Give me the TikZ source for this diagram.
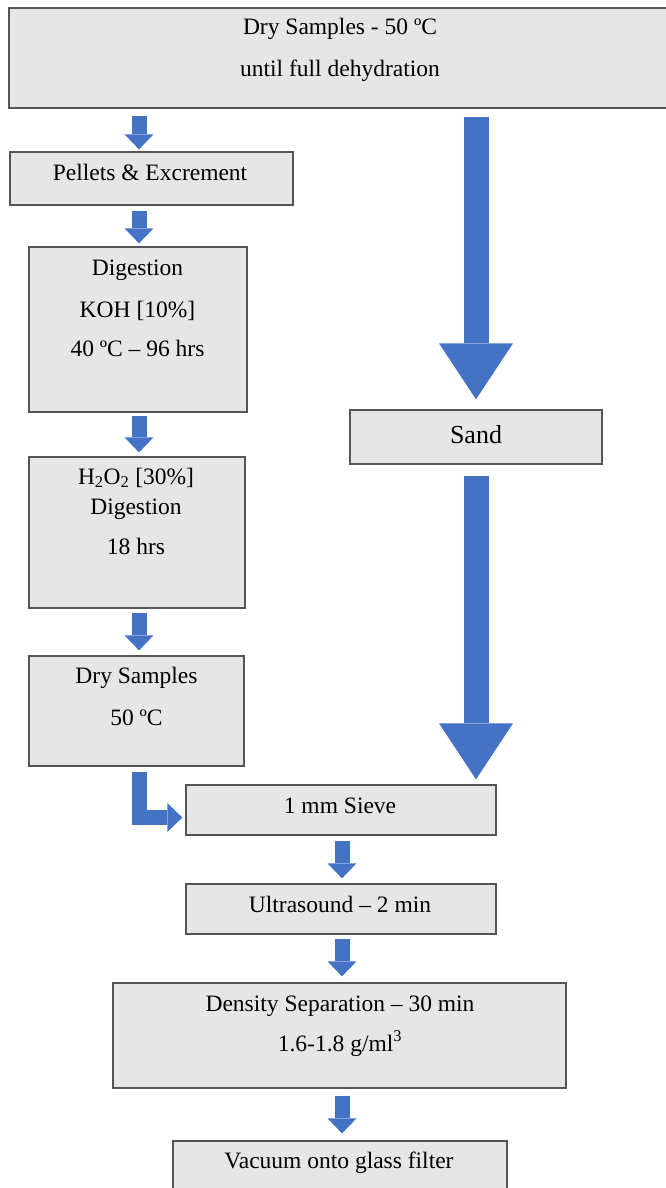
\documentclass[tikz,border=0pt]{standalone}
\usepackage{fontspec}
\setmainfont{Liberation Serif}
\usetikzlibrary{arrows.meta}
\definecolor{boxfill}{HTML}{E7E6E6}
\definecolor{boxline}{HTML}{555555}
\definecolor{arrowblue}{HTML}{4472C4}
\begin{document}
\begin{tikzpicture}[x=1pt,y=-1pt,
  box/.style={draw=boxline, line width=1.3pt, fill=boxfill, inner sep=0pt},
  txt/.style={anchor=base, inner sep=0pt, font=\fontsize{23.5}{28}\selectfont},
  sandtxt/.style={anchor=base, inner sep=0pt, font=\fontsize{26}{30}\selectfont},
  flow/.style={draw=arrowblue, line width=15pt, -{Triangle[width=29pt,length=15pt,line width=0pt]}},
  bigflow/.style={draw=arrowblue, line width=25pt, -{Triangle[width=74pt,length=56pt,line width=0pt]}}]
\useasboundingbox (0,0) rectangle (666,1188);
\fill[white] (0,0) rectangle (666,1188);
% x positions of arrow columns
\coordinate (lx) at (139,0);
\coordinate (cx) at (342,0);
\coordinate (sx) at (476,0);
% boxes
\node[box, minimum width=681pt, minimum height=100pt] (top) at (349.5,58) {};
\node[box, minimum width=283pt, minimum height=53pt] (pel) at (151.5,178.5) {};
\node[box, minimum width=218pt, minimum height=165pt] (dig) at (138,329.5) {};
\node[box, minimum width=216pt, minimum height=151pt] (hoo) at (137,532.5) {};
\node[box, minimum width=215pt, minimum height=110pt] (dry) at (136.5,711) {};
\node[box, minimum width=252pt, minimum height=54pt] (sand) at (476,437) {};
\node[box, minimum width=310pt, minimum height=50pt] (sieve) at (341,810) {};
\node[box, minimum width=310pt, minimum height=50pt] (ultra) at (341,909) {};
\node[box, minimum width=453pt, minimum height=105pt] (dens) at (339.5,1035.5) {};
\node[box, minimum width=334pt, minimum height=59pt] (vac) at (340,1170.5) {};
% texts
\node[txt] (t1) at (340,35) {Dry Samples - 50 ºC};
\node[txt] (t2) at (340,77) {until full dehydration};
\node[txt] (t3) at (150,180) {Pellets \& Excrement};
\node[txt] (t4) at (137.5,275) {Digestion};
\node[txt] (t5) at (137.5,317) {KOH [10\%]};
\node[txt] (t6) at (137.5,356) {40 ºC – 96 hrs};
\node[txt] (t7) at (136,484) {H\textsubscript{2}O\textsubscript{2} [30\%]};
\node[txt] (t8) at (136,514) {Digestion};
\node[txt] (t9) at (136,554) {18 hrs};
\node[txt] (t10) at (136.5,683) {Dry Samples};
\node[txt] (t11) at (136.5,725) {50 ºC};
\node[sandtxt] (t12) at (476,443) {Sand};
\node[txt] (t13) at (340,813) {1 mm Sieve};
\node[txt] (t14) at (340,912) {Ultrasound – 2 min};
\node[txt] (t15) at (340,1011) {Density Separation – 30 min};
\node[txt] (t16) at (340,1051) {1.6-1.8 g/ml\textsuperscript{3}};
\node[txt] (t17) at (339,1168) {Vacuum onto glass filter};
% left column arrows
\draw[flow, shorten <=7pt, shorten >=2pt] (top.south -| lx) -- (pel.north -| lx);
\draw[flow, shorten <=5pt, shorten >=3pt] (pel.south -| lx) -- (dig.north -| lx);
\draw[flow, shorten <=3pt, shorten >=4pt] (dig.south -| lx) -- (hoo.north -| lx);
\draw[flow, shorten <=4pt, shorten >=5pt] (hoo.south -| lx) -- (dry.north -| lx);
\draw[flow, line join=miter, shorten <=5pt, shorten >=3pt] (dry.south -| lx) |- ([yshift=-7.5pt]sieve.west);
% centre column arrows
\draw[flow, shorten <=5pt, shorten >=5pt] (sieve.south -| cx) -- (ultra.north -| cx);
\draw[flow, shorten <=4pt, shorten >=6pt] (ultra.south -| cx) -- (dens.north -| cx);
\draw[flow, shorten <=7pt, shorten >=7pt] (dens.south -| cx) -- (vac.north -| cx);
% sand arrows
\draw[bigflow, shorten <=8pt, shorten >=10pt] (top.south -| sx) -- (sand.north -| sx);
\draw[bigflow, shorten <=11pt, shorten >=5pt] (sand.south -| sx) -- (sieve.north -| sx);
\end{tikzpicture}
\end{document}
